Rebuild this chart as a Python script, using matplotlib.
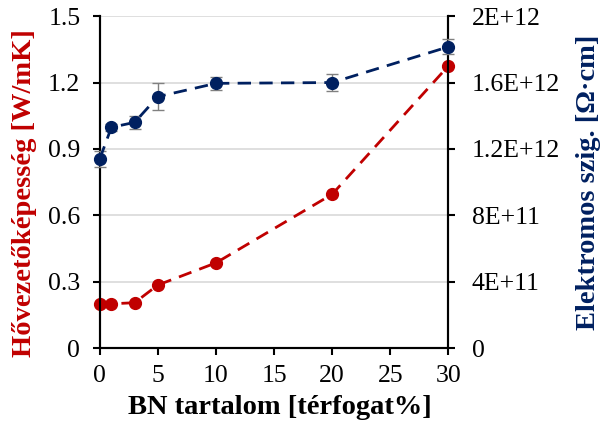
import matplotlib.pyplot as plt
from matplotlib.ticker import FixedLocator, FuncFormatter

plt.rcParams['font.family'] = ['Liberation Serif', 'DejaVu Serif']

bn = [0, 1, 3, 5, 10, 20, 30]
hovez = [0.20, 0.20, 0.205, 0.285, 0.385, 0.695, 1.275]
ellen = [1.14e12, 1.33e12, 1.36e12, 1.515e12, 1.595e12, 1.60e12, 1.815e12]
ellen_err = [0.05e12, 0.02e12, 0.04e12, 0.08e12, 0.04e12, 0.05e12, 0.045e12]

red = "#C00000"
blue = "#002060"

fig = plt.figure(figsize=(6.01, 4.25), dpi=100)
ax = fig.add_axes([0.166, 0.181, 0.580, 0.781])
ax2 = ax.twinx()

ax.set_xlim(0, 30)
ax.set_ylim(0, 1.5)
ax2.set_ylim(0, 2e12)

ax.yaxis.set_major_locator(FixedLocator([0, 0.3, 0.6, 0.9, 1.2, 1.5]))
ax.yaxis.set_major_formatter(FuncFormatter(lambda v, p: "0" if v == 0 else f"{v:.1f}"))
ax.xaxis.set_major_locator(FixedLocator([0, 5, 10, 15, 20, 25, 30]))
ax2_ticks = [0, 4e11, 8e11, 1.2e12, 1.6e12, 2e12]
ax2_labels = ["0", "4E+11", "8E+11", "1.2E+12", "1.6E+12", "2E+12"]
ax2.set_yticks(ax2_ticks)
ax2.set_yticklabels(ax2_labels)

ax.grid(axis="y", color="#D9D9D9", linewidth=1.2)
ax.set_axisbelow(True)

dash = (0, (4.8, 3))
ax.plot(bn, hovez, color=red, linestyle=dash, linewidth=2,
        marker="o", markersize=8.5, clip_on=False, zorder=3)
ax2.errorbar(bn, ellen, yerr=ellen_err, color=blue, linestyle=dash,
             linewidth=2, marker="o", markersize=8.5, ecolor="#808080",
             elinewidth=1.0, capsize=4, capthick=1.0, clip_on=False, zorder=3)

for a in (ax, ax2):
    a.spines["top"].set_visible(False)
    for s in a.spines.values():
        s.set_linewidth(1.5)
    a.tick_params(axis="both", labelsize=18.5, width=1.5, length=5, direction="out")
ax.tick_params(axis="x", pad=7)
ax.tick_params(axis="y", pad=9)
ax2.tick_params(axis="y", pad=12)

ax.set_xlabel("BN tartalom [térfogat%]", fontsize=20.5, fontweight="bold")
ax.set_ylabel("Hővezetőképesség [W/mK]", fontsize=20.5, fontweight="bold", color=red)
ax2.set_ylabel("Elektromos szig. [Ω·cm]", fontsize=20.5, fontweight="bold", color=blue)

ax.xaxis.set_label_coords(0.517, -0.178)
ax.xaxis.label.set_va("center")
ax.yaxis.set_label_coords(-0.215, 0.467)
ax.yaxis.label.set_va("center")
ax2.yaxis.set_label_coords(1.402, 0.498)
ax2.yaxis.label.set_va("center")

fig.savefig("out.png", dpi=100)
